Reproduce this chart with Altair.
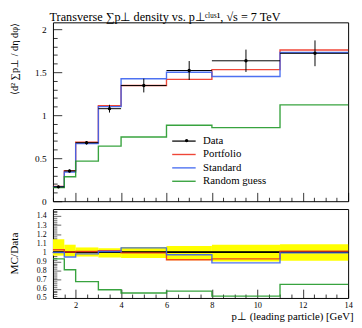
import altair as alt
import pandas as pd

# ---------------- data ----------------
edges = [1.0, 1.5, 2.0, 3.0, 4.0, 6.0, 8.0, 11.0, 14.0]
data_x = [1.24, 1.73, 2.48, 3.49, 5.0, 7.0, 9.5, 12.54]
data_y = [0.167, 0.352, 0.68, 1.076, 1.345, 1.52, 1.633, 1.72]
data_err = [0.015, 0.015, 0.02, 0.045, 0.08, 0.11, 0.13, 0.15]
portfolio = [0.172, 0.355, 0.685, 1.11, 1.345, 1.417, 1.53, 1.758]
standard = [0.168, 0.34, 0.67, 1.10, 1.424, 1.50, 1.45, 1.73]
random_guess = [0.158, 0.284, 0.466, 0.64, 0.746, 0.883, 0.856, 1.12]
ratio_portfolio = [1.03, 1.005, 1.01, 1.02, 0.995, 0.92, 0.93, 1.015]
ratio_standard = [1.0, 0.95, 0.985, 1.01, 1.05, 0.975, 0.885, 0.995]
ratio_random = [0.93, 0.81, 0.68, 0.59, 0.555, 0.575, 0.52, 0.65]
band_lo = [0.965, 0.955, 0.955, 0.945, 0.94, 0.915, 0.9, 0.91]
band_hi = [1.145, 1.085, 1.055, 1.045, 1.06, 1.07, 1.085, 1.09]

series_names = ["Data", "Portfolio", "Standard", "Random guess"]
series_colors = ["#000000", "#ee3322", "#3a62f0", "#22992a"]

x_tick_values = [1 + 0.5 * i for i in range(27)]
y_main_ticks = [round(0.1 * i, 2) for i in range(21)]
y_ratio_ticks = [round(0.5 + 0.02 * i, 2) for i in range(49)]

FONT = "Liberation Serif"

# ---------------- tables ----------------
def steps(pairs):
    rows = []
    for name, vals in pairs:
        for i, e in enumerate(edges):
            rows.append({"series": name, "x": e, "y": vals[min(i, len(vals) - 1)],
                         "order": i})
    return pd.DataFrame(rows)

main_steps = steps([("Portfolio", portfolio), ("Standard", standard),
                    ("Random guess", random_guess)])
ratio_steps = steps([("Portfolio", ratio_portfolio), ("Standard", ratio_standard),
                     ("Random guess", ratio_random)])

points = pd.DataFrame({
    "lo": edges[:-1], "hi": edges[1:], "xc": data_x, "y": data_y,
    "ylo": [v - e for v, e in zip(data_y, data_err)],
    "yhi": [v + e for v, e in zip(data_y, data_err)],
    "lab": ["Data"] * len(data_y),
})
band = pd.DataFrame({"lo": edges[:-1], "hi": edges[1:], "blo": band_lo, "bhi": band_hi})

# ---------------- scales & axes ----------------
x_scale = alt.Scale(domain=[1, 14], nice=False, zero=False)
y_main_scale = alt.Scale(domain=[0, 2.08], nice=False, zero=False)
y_ratio_scale = alt.Scale(domain=[0.5, 1.477], nice=False, zero=False)

# inward ticks: axis shifted inside by its tick length, minor ticks shortened by a dash
x_dash = {"condition": {"test": "datum.value % 2 != 0", "value": [0, 5, 4, 60]},
          "value": [30]}
y_main_dash = {"condition": {"test": "abs(datum.value*2-round(datum.value*2))>1e-6",
                             "value": [0, 4.7, 4.3, 60]}, "value": [30]}
y_ratio_dash = {"condition": {"test": "abs(datum.value*10-round(datum.value*10))>1e-6",
                              "value": [0, 4, 4, 60]}, "value": [30]}

common = dict(domain=False, grid=False, tickColor="black", tickCap="butt",
              labelFont=FONT, labelColor="black", labelOverlap=False, labelFlush=False,
              titleFont=FONT, titleFontWeight="normal", titleColor="black")

x_axis_main = alt.Axis(values=x_tick_values, labels=False, title=None, offset=-9,
                       tickSize=9, tickWidth=0.8, tickDash=x_dash, **common)
x_axis_ratio = alt.Axis(values=x_tick_values, title="p⊥ (leading particle) [GeV]",
                        format=".0f", offset=-9, tickSize=9, tickWidth=0.8,
                        tickDash=x_dash,
                        labelExpr="(datum.value % 2 == 0 && datum.value > 1) ? datum.label : ''",
                        labelPadding=3, labelFontSize=8.5, titleFontSize=11,
                        titleAlign="right", titleAnchor="end", titleX=307,
                        titleY=31, titleBaseline="alphabetic", **common)

y_axis_main = alt.Axis(values=y_main_ticks, format=".1~f", offset=-9, tickSize=9,
                       tickWidth=0.8, tickDash=y_main_dash,
                       labelExpr="abs(datum.value*2-round(datum.value*2))<1e-6 ? datum.label : ''",
                       labelPadding=7, labelFontSize=9.5,
                       title="⟨d² ∑p⊥ / dη dφ⟩", titleFontSize=10.5, titleAngle=270,
                       titleAlign="right", titleBaseline="middle", titleX=-48, titleY=0,
                       **common)

y_axis_ratio = alt.Axis(values=y_ratio_ticks, format=".1~f", offset=-8, tickSize=8,
                        tickWidth=0.6, tickDash=y_ratio_dash,
                        labelExpr="(abs(datum.value*10-round(datum.value*10))<1e-6 && datum.value < 1.45) ? datum.label : ''",
                        labelPadding=7, labelFontSize=8,
                        title="MC/Data", titleFontSize=11.5, titleAngle=270,
                        titleAlign="center", titleBaseline="middle", titleX=-47,
                        titleY=45, **common)

LEG_X, LEG_Y = 128, 115.5
color_enc = alt.Color(
    "series:N",
    scale=alt.Scale(domain=series_names, range=series_colors),
    legend=alt.Legend(
        title=None, orient="none", legendX=LEG_X, legendY=LEG_Y, padding=0,
        symbolType="M-2.4,0L2.4,0", symbolSize=100, symbolStrokeWidth=1.4,
        labelFont=FONT, labelFontSize=11, labelColor="black", labelOffset=13.6,
        rowPadding=2.7,
    ),
)
shape_enc = alt.Shape(
    "lab:N", scale=alt.Scale(domain=["Data"], range=["circle"]),
    legend=alt.Legend(
        title=None, orient="none", legendX=LEG_X + 5 - 1.75, legendY=LEG_Y, padding=0,
        symbolSize=12, symbolFillColor="black", symbolStrokeColor="black",
        symbolStrokeWidth=0, labelFont=FONT, labelFontSize=11,
        labelExpr="''", labelOffset=13.6,
    ),
)

W, H_MAIN, H_RATIO = 302, 183, 91

# ---------------- main panel ----------------
mc_main = alt.Chart(main_steps).mark_line(interpolate="step-after", strokeWidth=1.4,
                                          opacity=0.9).encode(
    x=alt.X("x:Q", scale=x_scale, axis=x_axis_main),
    y=alt.Y("y:Q", scale=y_main_scale, axis=y_axis_main),
    color=color_enc,
    detail="series:N",
    order="order:Q",
)
hbar = alt.Chart(points).mark_rule(color="black", strokeWidth=1).encode(
    x=alt.X("lo:Q", scale=x_scale, axis=x_axis_main), x2="hi:Q",
    y=alt.Y("y:Q", scale=y_main_scale, axis=y_axis_main),
)
vbar = alt.Chart(points).mark_rule(color="black", strokeWidth=1).encode(
    x=alt.X("xc:Q", scale=x_scale, axis=x_axis_main),
    y=alt.Y("ylo:Q", scale=y_main_scale, axis=y_axis_main), y2="yhi:Q",
)
dots = alt.Chart(points).mark_point(filled=True, color="black", size=12, opacity=1).encode(
    x=alt.X("xc:Q", scale=x_scale, axis=x_axis_main),
    y=alt.Y("y:Q", scale=y_main_scale, axis=y_axis_main),
    shape=shape_enc,
)
main = alt.layer(mc_main, hbar, vbar, dots).properties(width=W, height=H_MAIN)

# ---------------- ratio panel ----------------
yellow = alt.Chart(band).mark_rect(color="#ffff00", opacity=1).encode(
    x=alt.X("lo:Q", scale=x_scale, axis=x_axis_ratio), x2="hi:Q",
    y=alt.Y("blo:Q", scale=y_ratio_scale, axis=y_axis_ratio), y2="bhi:Q",
)
one = alt.Chart(band).mark_rule(color="black", strokeWidth=1.2, opacity=0.75).encode(
    y=alt.datum(1.0, scale=y_ratio_scale, axis=y_axis_ratio),
)
mc_ratio = alt.Chart(ratio_steps).mark_line(interpolate="step-after", strokeWidth=1.4,
                                            opacity=0.9).encode(
    x=alt.X("x:Q", scale=x_scale, axis=x_axis_ratio),
    y=alt.Y("y:Q", scale=y_ratio_scale, axis=y_axis_ratio),
    color=alt.Color("series:N", scale=alt.Scale(domain=series_names, range=series_colors),
                    legend=None),
    detail="series:N",
    order="order:Q",
)
ratio = alt.layer(yellow, one, mc_ratio).properties(width=W, height=H_RATIO)

chart = alt.vconcat(main, ratio, spacing=0).properties(
    title=alt.TitleParams(
        text="Transverse ∑p⊥ density vs. p⊥ᶜˡᵘˢ¹, √s = 7 TeV",
        anchor="start", font=FONT, fontSize=12.5, fontWeight="normal", color="black",
        offset=-2, dx=42,
    ),
    padding={"left": 0, "top": 0, "right": 0, "bottom": 0},
).configure_view(stroke="black", strokeWidth=1).configure_concat(spacing=0)

chart.save("out.html", embed_options={"renderer": "svg", "actions": False})
